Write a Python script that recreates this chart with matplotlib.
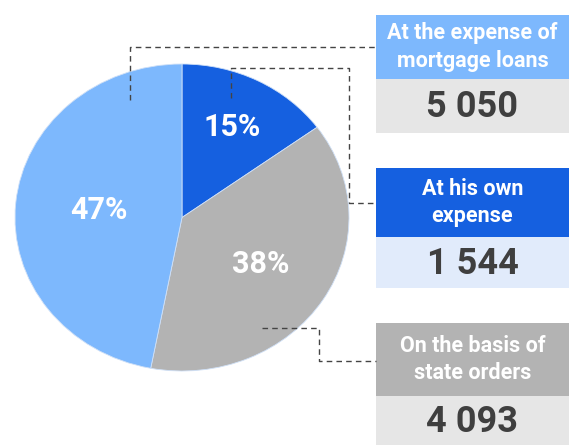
import numpy as np
import matplotlib.pyplot as plt
from matplotlib.patches import Rectangle

# data
categories = ['At his own\nexpense', 'On the basis of\nstate orders', 'At the expense of\nmortgage loans']
shares = [15, 38, 47]
counts = ['1 544', '4 093', '5 050']
colors = ['#1560e0', '#b3b3b3', '#7db8fd']
value_bg = ['#e1ebfb', '#e6e6e6', '#e6e6e6']

W, H = 569, 445
fig = plt.figure(figsize=(W / 100, H / 100), dpi=100)

# pie is slightly squashed, so give it its own axes with auto aspect
pie_ax = fig.add_axes([15 / W, 1 - 371 / H, (349 - 15) / W, (371 - 64) / H])
wedges, _ = pie_ax.pie(shares, colors=colors, startangle=90, counterclock=False,
                       radius=1, wedgeprops=dict(linewidth=0.6, edgecolor='#cfe0f7'))
pie_ax.set_aspect('auto')
pie_ax.set_xlim(-1, 1)
pie_ax.set_ylim(-1, 1)
pie_ax.axis('off')

label_r = [0.66, 0.56, 0.5]
for w, s, r in zip(wedges, shares, label_r):
    mid = np.deg2rad((w.theta1 + w.theta2) / 2)
    pie_ax.text(r * np.cos(mid), r * np.sin(mid), f'{s}%', color='white',
                fontsize=22, fontweight='bold', family='Roboto',
                ha='center', va='center')

# overlay in pixel coordinates for boxes and leader lines
ax = fig.add_axes([0, 0, 1, 1], zorder=2)
ax.set_xlim(0, W)
ax.set_ylim(H, 0)
ax.axis('off')
ax.patch.set_alpha(0)

# box layout: (header top, header bottom, value bottom) per category
boxes = [(168, 237, 288), (323, 396, 445), (15, 79, 133)]
x0 = 376
for cat, cnt, col, bg, (t, m, b) in zip(categories, counts, colors, value_bg, boxes):
    ax.add_patch(Rectangle((x0, t), W - x0, m - t, color=col, lw=0))
    ax.add_patch(Rectangle((x0, m), W - x0, b - m, color=bg, lw=0))
    ax.text((x0 + W) / 2, (t + m) / 2, cat, color='white', fontsize=15.5,
            fontweight='bold', family='Roboto', ha='center', va='center',
            linespacing=1.3)
    ax.text((x0 + W) / 2, (m + b) / 2 + 1, cnt, color='#3f3f3f', fontsize=26,
            fontweight='bold', family='Roboto', ha='center', va='center')

dash = dict(color='#444444', lw=1, ls=(0, (4, 3)))
ax.plot([130, 130, 376], [100, 47, 47], **dash)
ax.plot([231, 231, 349, 349, 376], [98, 68, 68, 203, 203], **dash)
ax.plot([262, 319, 319, 376], [328, 328, 361, 361], **dash)

fig.savefig('out.png', dpi=100)
